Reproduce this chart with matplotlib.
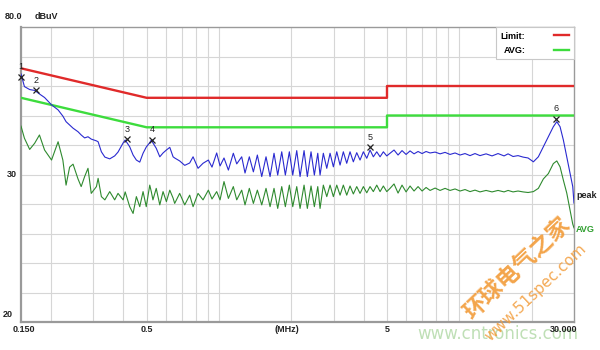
import matplotlib
matplotlib.use("Agg")
import matplotlib.pyplot as plt
import matplotlib.transforms as mtransforms
from matplotlib.lines import Line2D

# ---------------- data ----------------
freq_mhz = [
    0.150, 0.155, 0.163, 0.171, 0.179, 0.188, 0.201, 0.214, 0.224, 0.231,
    0.239, 0.247, 0.259, 0.267, 0.276, 0.285, 0.294, 0.309, 0.314, 0.324,
    0.335, 0.351, 0.368, 0.380, 0.399, 0.407, 0.425, 0.439, 0.453, 0.468,
    0.483, 0.498, 0.515, 0.523, 0.531, 0.548, 0.567, 0.585, 0.604, 0.624,
    0.644, 0.654, 0.686, 0.720, 0.755, 0.780, 0.818, 0.858,
    0.903, 0.935, 0.978, 1.010, 1.049, 1.094, 1.147, 1.185, 1.243, 1.283,
    1.337, 1.390, 1.444, 1.506, 1.569, 1.631, 1.694, 1.755, 1.824, 1.888,
    1.962, 2.027, 2.106, 2.174, 2.259, 2.331, 2.415, 2.493, 2.576, 2.633,
    2.717, 2.808, 2.898, 2.991, 3.090, 3.189, 3.291, 3.400, 3.509, 3.622,
    3.742, 3.862, 3.987, 4.119, 4.251, 4.387, 4.533, 4.679, 4.829, 4.989,
    5.148,
    5.349, 5.559, 5.775, 6.003, 6.237, 6.480, 6.734, 6.999, 7.272, 7.557,
    7.928, 8.315, 8.722, 9.150, 9.598, 10.07, 10.56, 11.08, 11.62, 12.19,
    12.92, 13.68, 14.49, 15.35, 15.95, 16.73, 17.55, 18.42, 19.32, 20.33,
    21.32, 22.37, 23.46, 24.61, 25.44, 26.25, 27.09, 27.99, 28.89, 29.64,
    30.00,
]

peak_dbuv = [
    64.1, 59.8, 58.8, 58.5, 57.3, 56.1, 53.6, 51.9, 49.8, 47.9,
    46.8, 45.7, 44.5, 43.4, 42.4, 42.8, 42.0, 41.4, 41.1, 37.7,
    35.9, 35.3, 36.3, 37.6, 40.7, 41.7, 39.4, 36.6, 34.9, 34.2,
    37.2, 39.3, 40.8, 41.7, 40.7, 38.9, 36.0, 37.3, 38.3, 39.2,
    36.0, 35.6, 34.6, 33.1, 33.9, 36.0, 32.1, 33.8,
    34.9, 32.5, 37.3, 32.9, 35.6, 31.5, 37.2, 33.6, 36.0, 30.5,
    36.0, 30.9, 36.6, 29.3, 36.0, 29.3, 37.2, 29.8, 37.7, 29.8,
    37.7, 29.8, 38.1, 29.3, 38.1, 29.3, 37.7, 29.8, 37.2, 29.8,
    37.2, 32.1, 37.2, 32.6, 37.7, 33.2, 37.7, 33.8, 37.7, 34.3,
    37.4, 34.9, 37.7, 35.5, 38.3, 36.0, 37.7, 36.0, 37.7, 36.3,
    37.2,
    38.3, 36.6, 38.1, 36.8, 38.0, 37.0, 37.8, 37.1, 37.8, 37.3,
    37.6, 37.0, 37.5, 36.8, 37.3, 36.6, 37.1, 36.4, 37.1, 36.4,
    37.0, 36.3, 37.1, 36.3, 37.0, 36.1, 36.4, 35.9, 35.6, 34.3,
    36.0, 39.4, 42.8, 46.2, 47.9, 46.2, 41.7, 36.0, 30.4, 25.9,
    20.3,
]

avg_dbuv = [
    46.4, 42.3, 38.5, 40.6, 43.4, 38.3, 34.9, 41.1, 34.9, 26.4,
    32.5, 33.5, 28.5, 25.9, 29.3, 32.1, 23.6, 25.9, 28.7, 22.5,
    21.4, 24.2, 21.4, 23.6, 21.4, 24.1, 19.1, 16.8, 22.5, 19.1,
    24.2, 19.1, 26.4, 24.1, 21.4, 25.3, 19.7, 24.2, 20.8, 24.7,
    22.0, 20.2, 23.6, 19.7, 23.0, 19.1, 23.6, 21.4,
    24.7, 21.7, 24.2, 21.4, 27.6, 21.9, 25.9, 21.4, 24.7, 19.7,
    25.3, 20.2, 24.7, 19.7, 25.3, 19.1, 25.3, 18.5, 25.9, 19.1,
    26.4, 19.1, 25.9, 18.5, 26.4, 18.5, 26.1, 19.1, 25.9, 18.5,
    26.4, 22.5, 26.4, 22.5, 26.4, 23.0, 26.4, 23.0, 26.1, 23.4,
    25.9, 23.6, 25.9, 23.8, 25.9, 24.2, 26.4, 24.2, 26.1, 24.2,
    25.3,
    26.8, 23.7, 26.4, 24.1, 26.1, 24.4, 25.9, 24.4, 25.6, 24.6,
    25.4, 24.6, 25.3, 24.6, 25.1, 24.4, 24.9, 24.2, 24.7, 24.1,
    24.6, 24.1, 24.6, 24.1, 24.6, 24.1, 24.4, 24.1, 23.9, 24.2,
    25.3, 28.5, 30.3, 33.7, 34.6, 32.6, 28.1, 23.7, 18.0, 13.2,
    11.9,
]

limit_freq = [0.15, 0.5, 5, 5, 30]
qp_limit = [66, 56, 56, 60, 60]
avg_limit = [56, 46, 46, 50, 50]

marker_ids = ["1", "2", "3", "4", "5", "6"]
marker_freq = [0.150, 0.173, 0.414, 0.526, 4.25, 25.3]
marker_db = [63.1, 58.6, 42.0, 41.7, 39.3, 48.8]

x_tick_vals = [0.15, 0.5, 5, 30]
x_tick_labels = ["0.150", "0.5", "5", "30.000"]
grid_freqs = [0.2, 0.3, 0.4, 0.5, 0.6, 0.7, 0.8, 0.9,
              1, 2, 3, 4, 5, 6, 7, 8, 9, 10, 20]
grid_levels = [-10, 0, 10, 20, 30, 40, 50, 60, 70]

# ---------------- figure ----------------
FONT = ["Liberation Sans", "DejaVu Sans"]
fig = plt.figure(figsize=(6, 3.5), dpi=100)
fig.patch.set_facecolor("white")
ax = fig.add_axes([21 / 600, 1 - 322 / 350, 553 / 600, 295 / 350])
ax.set_xscale("log")
ax.set_xlim(0.15, 30)
ax.set_ylim(-20, 80)

for g in grid_freqs:
    ax.axvline(g, color="#d6d6d6", lw=0.8, zorder=0)
for lv in grid_levels:
    ax.axhline(lv, color="#d6d6d6", lw=0.8, zorder=0)

for side, sp in ax.spines.items():
    sp.set_color("#9a9a9a")
    sp.set_linewidth(1.6 if side in ("left", "bottom") else 1.0)

ax.tick_params(which="both", length=0)
ax.set_yticks([])
ax.set_xticks(x_tick_vals)
ax.set_xticklabels(x_tick_labels)
ax.xaxis.set_minor_locator(matplotlib.ticker.NullLocator())
ax.tick_params(axis="x", pad=2.0)
for lbl in ax.get_xticklabels():
    lbl.set_fontsize(6.5)
    lbl.set_fontweight("bold")
    lbl.set_family(FONT)
    lbl.set_color("#222222")
last = ax.get_xticklabels()[-1]
last.set_transform(last.get_transform() + mtransforms.ScaledTranslation(-10 / 100, 0, fig.dpi_scale_trans))
first = ax.get_xticklabels()[0]
first.set_transform(first.get_transform() + mtransforms.ScaledTranslation(3 / 100, 0, fig.dpi_scale_trans))

txt_kw = dict(fontsize=6.5, fontweight="bold", family=FONT, color="#222222")
ax.text((287 - 21) / 553, -0.024, "(MHz)", transform=ax.transAxes, ha="center", va="center", **txt_kw)
ax.text(-16 / 553, 1.034, "80.0", transform=ax.transAxes, ha="left", va="center", **txt_kw)
ax.text(14 / 553, 1.034, "dBuV", transform=ax.transAxes, ha="left", va="center", **txt_kw)
ytrans = mtransforms.blended_transform_factory(ax.transAxes, ax.transData)
ax.text(-4 / 553, 30, "30", transform=ytrans, ha="right", va="center", **txt_kw)
ax.text(-8 / 553, 0.027, "20", transform=ax.transAxes, ha="right", va="center", **txt_kw)

# limits
ax.plot(limit_freq, qp_limit, color="#e02a2a", lw=1.7, zorder=3, label="Limit:")
ax.plot(limit_freq, avg_limit, color="#3ddc3d", lw=1.7, zorder=3, label="AVG:")

# traces
ax.plot(freq_mhz, peak_dbuv, color="#2a2ad0", lw=0.8, zorder=4)
ax.plot(freq_mhz, avg_dbuv, color="#2f8a2f", lw=0.8, zorder=4)

# markers
ax.plot(marker_freq, marker_db, ls="none", marker="x", ms=4, mew=0.9, color="#222222", zorder=5, clip_on=False)
for mid, mf, md in zip(marker_ids, marker_freq, marker_db):
    ax.annotate(mid, (mf, md), xytext=(0, 4), textcoords="offset points",
                ha="center", va="bottom", fontsize=6.5, family=FONT, color="#222222", zorder=6,
                annotation_clip=False)

# right-side trace labels
ax.text(1.004, (322 - 196) / 295, "peak", transform=ax.transAxes, ha="left", va="center", **txt_kw)
ax.text(1.004, (322 - 229) / 295, "AVG", transform=ax.transAxes, ha="left", va="center",
        fontsize=6.5, fontweight="bold", family=FONT, color="#2e9e2e")

# legend
handles = [Line2D([], [], color="#e02a2a", lw=1.7), Line2D([], [], color="#3ddc3d", lw=1.7)]
leg = ax.legend(handles, ["Limit:", "AVG:"], loc="upper right", markerfirst=False,
                frameon=True, fancybox=False, edgecolor="#c8c8c8", framealpha=1,
                borderaxespad=0, handlelength=1.7, handletextpad=3.2, labelspacing=0.6,
                borderpad=0.5, prop=dict(size=6.5, weight="bold", family=FONT))
leg.get_frame().set_linewidth(0.8)
leg.set_zorder(7)

# watermarks
fig.text(517 / 600, 1 - 269 / 350, "环球电气之家", rotation=43.5, color="#f29b38",
         fontsize=16.5, fontweight="bold", family=["Noto Sans CJK SC", "DejaVu Sans"],
         ha="center", va="center", alpha=0.9, zorder=10)
fig.text(536 / 600, 1 - 293 / 350, "www.51spec.com", rotation=43.5, color="#f29b38",
         fontsize=11, family=["DejaVu Sans"], ha="center", va="center", alpha=0.85, zorder=10)
fig.text(498 / 600, 1 - 334 / 350, "www.cntronics.com", color="#b8dcae",
         fontsize=12, family=["DejaVu Sans"], ha="center", va="center", alpha=0.9, zorder=-1)

fig.savefig("out.png", dpi=100, facecolor="white")
